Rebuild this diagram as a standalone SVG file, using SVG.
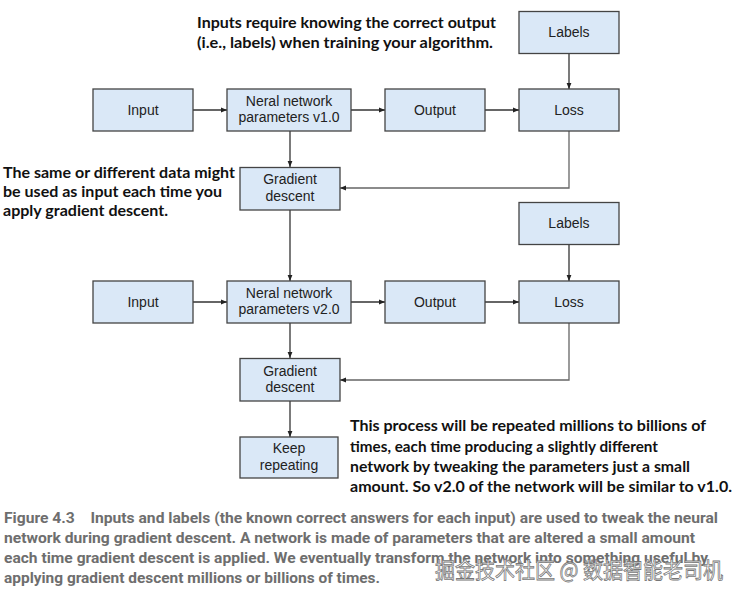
<svg xmlns="http://www.w3.org/2000/svg" width="740" height="598" viewBox="0 0 740 598">
<style>
.box{fill:#dae8f7;stroke:#444;stroke-width:1.3}
.bt{font-family:"Liberation Sans",Arial,sans-serif;font-size:14px;fill:#222;text-anchor:middle}
.ln{fill:none;stroke:#333;stroke-width:1.3}
.fb{fill:none;stroke:#666;stroke-width:1.3}
.ann{font-family:Lato,"Open Sans",sans-serif;font-weight:bold;font-size:16px;fill:#111}
.cap{font-family:Roboto,"Liberation Sans",sans-serif;font-weight:bold;font-size:14.5px;fill:#6e6e6e}
.wm{font-family:"Noto Sans CJK SC",sans-serif;font-size:22px;fill:#fff;stroke:#777;stroke-width:0.8}
</style>
<defs>
<marker id="ah" viewBox="0 0 10 10" refX="10" refY="5" markerWidth="9" markerHeight="6" markerUnits="userSpaceOnUse" orient="auto">
<path d="M0,1 L10,5 L0,9 z" fill="#222"/>
</marker>
</defs>
<rect width="740" height="598" fill="#fff"/>
<g id="connectors">
<line class="ln" x1="193" y1="110" x2="227" y2="110" marker-end="url(#ah)"/>
<line class="ln" x1="351" y1="110" x2="385" y2="110" marker-end="url(#ah)"/>
<line class="ln" x1="485" y1="110" x2="519" y2="110" marker-end="url(#ah)"/>
<line class="ln" x1="569" y1="53" x2="569" y2="89" marker-end="url(#ah)"/>
<line class="ln" x1="290" y1="131" x2="290" y2="167" marker-end="url(#ah)"/>
<polyline class="fb" points="569,131 569,188 340,188" marker-end="url(#ah)"/>
<line class="ln" x1="290" y1="210" x2="290" y2="281" marker-end="url(#ah)"/>
<line class="ln" x1="193" y1="302" x2="227" y2="302" marker-end="url(#ah)"/>
<line class="ln" x1="351" y1="302" x2="385" y2="302" marker-end="url(#ah)"/>
<line class="ln" x1="485" y1="302" x2="519" y2="302" marker-end="url(#ah)"/>
<line class="ln" x1="569" y1="244" x2="569" y2="281" marker-end="url(#ah)"/>
<line class="ln" x1="290" y1="323" x2="290" y2="358" marker-end="url(#ah)"/>
<polyline class="fb" points="569,323 569,380 340,380" marker-end="url(#ah)"/>
<line class="ln" x1="290" y1="401" x2="290" y2="437" marker-end="url(#ah)"/>
</g>
<g id="labels1"><rect class="box" x="519" y="11.5" width="100" height="42"/><text class="bt" x="569" y="37">Labels</text></g>
<g id="input1"><rect class="box" x="93" y="89" width="100" height="42"/><text class="bt" x="143" y="115">Input</text></g>
<g id="nn1"><rect class="box" x="227" y="89" width="124" height="42"/><text class="bt" x="289" y="106">Neral network</text><text class="bt" x="289" y="122">parameters v1.0</text></g>
<g id="output1"><rect class="box" x="385" y="89" width="100" height="42"/><text class="bt" x="435" y="115">Output</text></g>
<g id="loss1"><rect class="box" x="519" y="89" width="100" height="42"/><text class="bt" x="569" y="115">Loss</text></g>
<g id="gd1"><rect class="box" x="240" y="167.5" width="100" height="42.5"/><text class="bt" x="290" y="184">Gradient</text><text class="bt" x="290" y="201">descent</text></g>
<g id="labels2"><rect class="box" x="519" y="202.5" width="100" height="42"/><text class="bt" x="569" y="228">Labels</text></g>
<g id="input2"><rect class="box" x="93" y="281" width="100" height="42"/><text class="bt" x="143" y="307">Input</text></g>
<g id="nn2"><rect class="box" x="227" y="281" width="124" height="42"/><text class="bt" x="289" y="298">Neral network</text><text class="bt" x="289" y="314">parameters v2.0</text></g>
<g id="output2"><rect class="box" x="385" y="281" width="100" height="42"/><text class="bt" x="435" y="307">Output</text></g>
<g id="loss2"><rect class="box" x="519" y="281" width="100" height="42"/><text class="bt" x="569" y="307">Loss</text></g>
<g id="gd2"><rect class="box" x="240" y="358.5" width="100" height="42.5"/><text class="bt" x="290" y="376">Gradient</text><text class="bt" x="290" y="392">descent</text></g>
<g id="keep"><rect class="box" x="240" y="437" width="98" height="41"/><text class="bt" x="289" y="453">Keep</text><text class="bt" x="289" y="470">repeating</text></g>
<g id="annotations">
<text class="ann" x="197" y="28" textLength="299" lengthAdjust="spacingAndGlyphs">Inputs require knowing the correct output</text>
<text class="ann" x="197" y="48" textLength="296" lengthAdjust="spacingAndGlyphs">(i.e., labels) when training your algorithm.</text>
<text class="ann" x="3" y="178" textLength="232" lengthAdjust="spacingAndGlyphs">The same or different data might</text>
<text class="ann" x="3" y="197" textLength="219" lengthAdjust="spacingAndGlyphs">be used as input each time you</text>
<text class="ann" x="3" y="216" textLength="165" lengthAdjust="spacingAndGlyphs">apply gradient descent.</text>
<text class="ann" x="350" y="431" textLength="356" lengthAdjust="spacingAndGlyphs">This process will be repeated millions to billions of</text>
<text class="ann" x="350" y="452" textLength="308" lengthAdjust="spacingAndGlyphs">times, each time producing a slightly different</text>
<text class="ann" x="350" y="472" textLength="340" lengthAdjust="spacingAndGlyphs">network by tweaking the parameters just a small</text>
<text class="ann" x="350" y="492" textLength="382" lengthAdjust="spacingAndGlyphs">amount. So v2.0 of the network will be similar to v1.0.</text>
</g>
<g id="caption">
<text class="cap" x="4" y="523" textLength="714" lengthAdjust="spacingAndGlyphs" xml:space="preserve">Figure 4.3    Inputs and labels (the known correct answers for each input) are used to tweak the neural</text>
<text class="cap" x="4" y="543" textLength="691" lengthAdjust="spacingAndGlyphs">network during gradient descent. A network is made of parameters that are altered a small amount</text>
<text class="cap" x="4" y="563" textLength="704" lengthAdjust="spacingAndGlyphs">each time gradient descent is applied. We eventually transform the network into something useful by</text>
<text class="cap" x="4" y="583" textLength="376" lengthAdjust="spacingAndGlyphs">applying gradient descent millions or billions of times.</text>
<text class="wm" x="435" y="578" textLength="288" lengthAdjust="spacingAndGlyphs">掘金技术社区 @ 数据智能老司机</text>
</g>
</svg>
